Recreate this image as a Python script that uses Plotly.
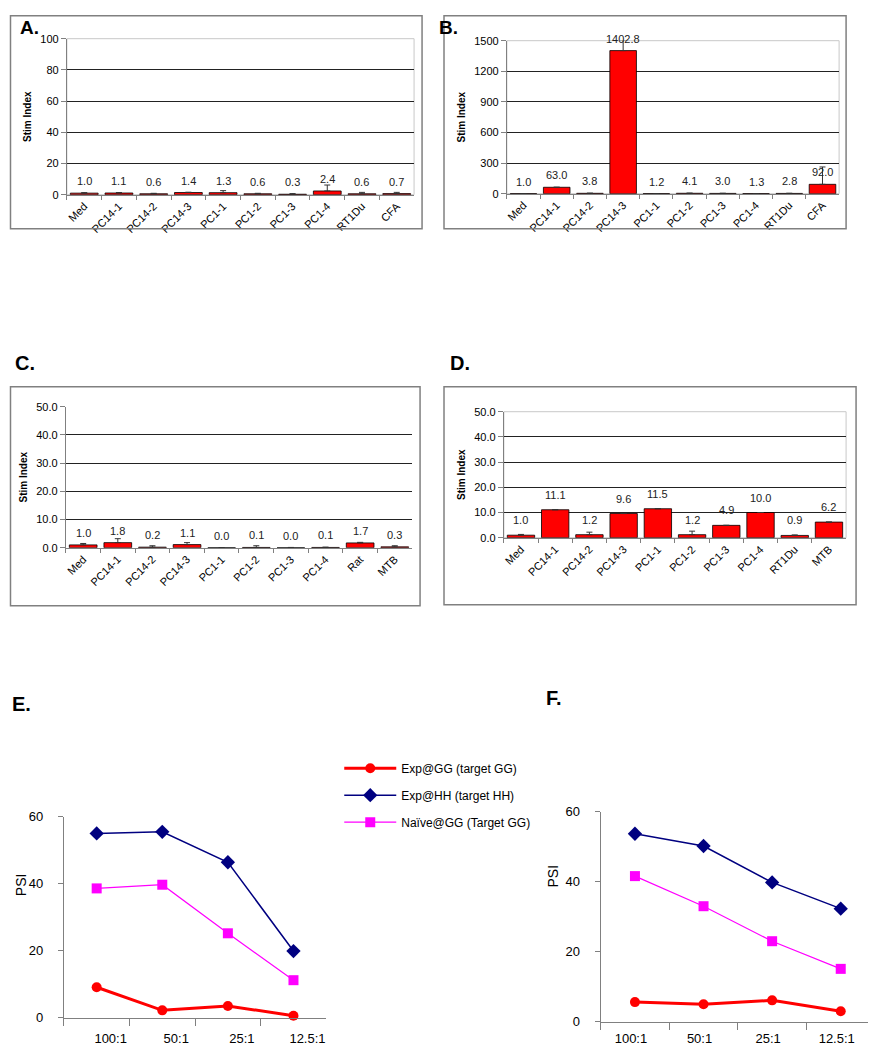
import plotly.graph_objects as go

W, H = 876, 1050
# the captured page shifts the figure 8px right, and in y it lands at 14.3 + 0.9857 * paper_y
OFF_X = 8
OFF_Y, SCALE_Y = 14.3, 0.9857

# ---- data -------------------------------------------------------------
cats_ab = ['Med', 'PC14-1', 'PC14-2', 'PC14-3', 'PC1-1', 'PC1-2', 'PC1-3', 'PC1-4', 'RT1Du', 'CFA']
si_a = [1.0, 1.1, 0.6, 1.4, 1.3, 0.6, 0.3, 2.4, 0.6, 0.7]
err_a = [0.3, 0.3, 0.3, 0.2, 1.3, 0.3, 0.4, 3.8, 0.9, 0.8]

si_b = [1.0, 63.0, 3.8, 1402.8, 1.2, 4.1, 3.0, 1.3, 2.8, 92.0]
err_b = [0, 0, 1, 100, 0, 1, 1, 0, 1, 170]

cats_c = ['Med', 'PC14-1', 'PC14-2', 'PC14-3', 'PC1-1', 'PC1-2', 'PC1-3', 'PC1-4', 'Rat', 'MTB']
si_c = [1.0, 1.8, 0.2, 1.1, 0.0, 0.1, 0.0, 0.1, 1.7, 0.3]
err_c = [0.5, 1.4, 0.5, 0.7, 0, 0.6, 0.1, 0.1, 0.2, 0.4]

cats_d = ['Med', 'PC14-1', 'PC14-2', 'PC14-3', 'PC1-1', 'PC1-2', 'PC1-3', 'PC1-4', 'RT1Du', 'MTB']
si_d = [1.0, 11.1, 1.2, 9.6, 11.5, 1.2, 4.9, 10.0, 0.9, 6.2]
err_d = [0.3, 0, 1.0, 0, 0, 1.4, 0, 0, 0.2, 0]

ratios = ['100:1', '50:1', '25:1', '12.5:1']
series_names = ['Exp@GG (target GG)', 'Exp@HH (target HH)', 'Naïve@GG (Target GG)']
e_exp_gg = [9.1, 2.2, 3.5, 0.6]
e_exp_hh = [55.0, 55.5, 46.4, 19.9]
e_naive_gg = [38.6, 39.7, 25.2, 11.2]
f_exp_gg = [5.6, 5.0, 6.1, 3.0]
f_exp_hh = [53.7, 50.2, 39.8, 32.3]
f_naive_gg = [41.6, 33.0, 23.0, 15.1]


def fx(p):
    return max(p - OFF_X, 0.5) / W


def fy(p):
    return 1 - max((p - OFF_Y) / SCALE_Y, 0.5) / H


FONT = 'Liberation Sans, Arial, sans-serif'
fig = go.Figure()
layout = dict(width=W, height=H, margin=dict(l=0, r=0, t=0, b=0),
              paper_bgcolor='white', plot_bgcolor='white',
              font=dict(family=FONT, color='#000'), showlegend=True)
annos = []
shapes = []

# bar panels: (axis no, cats, values, errors, x px, y px, top, dtick, fmt, box, label, label pos, label shift, outline)
bar_panels = [
    (1, cats_ab, si_a, err_a, (65, 413), (38, 194), 100, 20, '', (6, 15, 421, 228), 'A.', (28, 10), 12, True),
    (2, cats_ab, si_b, err_b, (506, 839), (40, 193), 1500, 300, '', (443, 15, 846, 228), 'B.', (448, 10), 12, True),
    (3, cats_c, si_c, err_c, (64, 411), (406, 547), 50, 10, '.1f', (6, 386, 419, 605), 'C.', (23, 362), 12, False),
    (4, cats_d, si_d, err_d, (503, 846), (411, 537), 50, 10, '.1f', (443, 386, 856, 604), 'D.', (459, 362), 15, True),
]

for n, cats, vals, errs, xp, yp, top, dt, fmt, box, lab, lpos, shift, outline in bar_panels:
    xa = 'x' if n == 1 else 'x%d' % n
    ya = 'y' if n == 1 else 'y%d' % n
    fig.add_trace(go.Bar(
        x=cats, y=vals, xaxis=xa, yaxis=ya, showlegend=False,
        marker=dict(color='#FF0000', line=dict(color='#000', width=0.8)),
        error_y=dict(type='data', symmetric=False, array=errs, arrayminus=[0] * len(errs),
                     color='#333', thickness=1, width=3),
    ))
    layout['xaxis' if n == 1 else 'xaxis%d' % n] = dict(
        domain=[fx(xp[0]), fx(xp[1])], anchor=ya, range=[-0.5, 9.5],
        tickangle=-45, tickson='boundaries', ticks='outside', ticklen=4,
        tickcolor='#808080', showline=True, linecolor='#808080', linewidth=1,
        showgrid=False, tickfont=dict(size=11))
    layout['yaxis' if n == 1 else 'yaxis%d' % n] = dict(
        domain=[fy(yp[1]), fy(yp[0])], anchor=xa, range=[0, top], dtick=dt,
        tickformat=fmt, ticks='outside', ticklen=5, tickcolor='#808080',
        showline=True, linecolor='#808080', linewidth=1, zeroline=False,
        showgrid=True, gridcolor='#222', gridwidth=1, tickfont=dict(size=11),
        title=dict(text='<b>Stim Index</b>', font=dict(size=10), standoff=6))
    for c, v in zip(cats, vals):
        annos.append(dict(x=c, y=v, xref=xa, yref=ya, text='%.1f' % v, showarrow=False,
                          yanchor='middle', yshift=shift, font=dict(size=11, color='#222')))
    if lpos[1] < 20:
        # no room above the frame at the very top of the page
        annos.append(dict(x=fx(lpos[0]), y=1, xref='paper', yref='paper', text='<b>%s</b>' % lab,
                          showarrow=False, xanchor='center', yanchor='top', font=dict(size=19)))
    else:
        annos.append(dict(x=fx(lpos[0]), y=fy(lpos[1]), xref='paper', yref='paper', text='<b>%s</b>' % lab,
                          showarrow=False, xanchor='center', yanchor='middle', font=dict(size=20)))
    shapes.append(dict(type='rect', xref='paper', yref='paper', x0=fx(box[0]), x1=fx(box[2]),
                       y0=fy(box[3]), y1=fy(box[1]), line=dict(color='#808080', width=1.5)))
    if outline:
        shapes.append(dict(type='rect', xref=xa + ' domain', yref=ya + ' domain', x0=0, x1=1, y0=0, y1=1,
                           layer='below', line=dict(color='#C8C8C8', width=1)))

# line panels
line_panels = [
    (5, (e_exp_gg, e_exp_hh, e_naive_gg), (62, 325), (816, 1017), 14, 9, 'E.', (7, 703), (6, 884), True),
    (6, (f_exp_gg, f_exp_hh, f_naive_gg), (600, 875), (811, 1021), -4, 5, 'F.', (543, 697), (549, 875), False),
]
styles = [
    dict(color='#FF0000', width=3, symbol='circle', size=10),
    dict(color='#000080', width=1.5, symbol='diamond', size=11),
    dict(color='#FF00FF', width=1.2, symbol='square', size=10),
]

for n, sers, xp, yp, lshift, lstand, lab, lpos, ppos, leg in line_panels:
    xa, ya = 'x%d' % n, 'y%d' % n
    for name, vals, st in zip(series_names, sers, styles):
        fig.add_trace(go.Scatter(
            x=ratios, y=vals, xaxis=xa, yaxis=ya, mode='lines+markers', name=name,
            legendgroup=name, showlegend=leg, cliponaxis=False,
            line=dict(color=st['color'], width=st['width']),
            marker=dict(color=st['color'], symbol=st['symbol'], size=st['size']),
        ))
    layout['xaxis%d' % n] = dict(
        domain=[fx(xp[0]), fx(xp[1])], anchor=ya, range=[-0.5, 3.5],
        tickson='boundaries', ticks='outside', ticklen=7, tickcolor='#808080',
        showline=True, linecolor='#808080', linewidth=1, showgrid=False,
        tickfont=dict(size=13), ticklabelshift=lshift, ticklabelstandoff=lstand)
    layout['yaxis%d' % n] = dict(
        domain=[fy(yp[1]), fy(yp[0])], anchor=xa, range=[0, 60], dtick=20,
        ticks='outside', ticklen=5, tickcolor='#808080', showline=True,
        linecolor='#808080', linewidth=1, zeroline=False, showgrid=False,
        tickfont=dict(size=13), ticklabelstandoff=12)
    annos.append(dict(x=fx(lpos[0]), y=fy(lpos[1]), xref='paper', yref='paper', text='<b>%s</b>' % lab,
                      showarrow=False, xanchor='left', yanchor='middle', font=dict(size=20)))
    annos.append(dict(x=fx(ppos[0] - 7), y=fy(ppos[1]), xref='paper', yref='paper', text='PSI',
                      textangle=-90, showarrow=False, xanchor='left', yanchor='middle',
                      font=dict(size=14)))

layout['legend'] = dict(x=fx(338), y=fy(753), xanchor='left', yanchor='top',
                        bgcolor='rgba(0,0,0,0)', font=dict(size=12),
                        itemwidth=52, traceorder='grouped', tracegroupgap=8)
layout['annotations'] = annos
layout['shapes'] = shapes
fig.update_layout(**layout)

fig.write_html('out.html')
